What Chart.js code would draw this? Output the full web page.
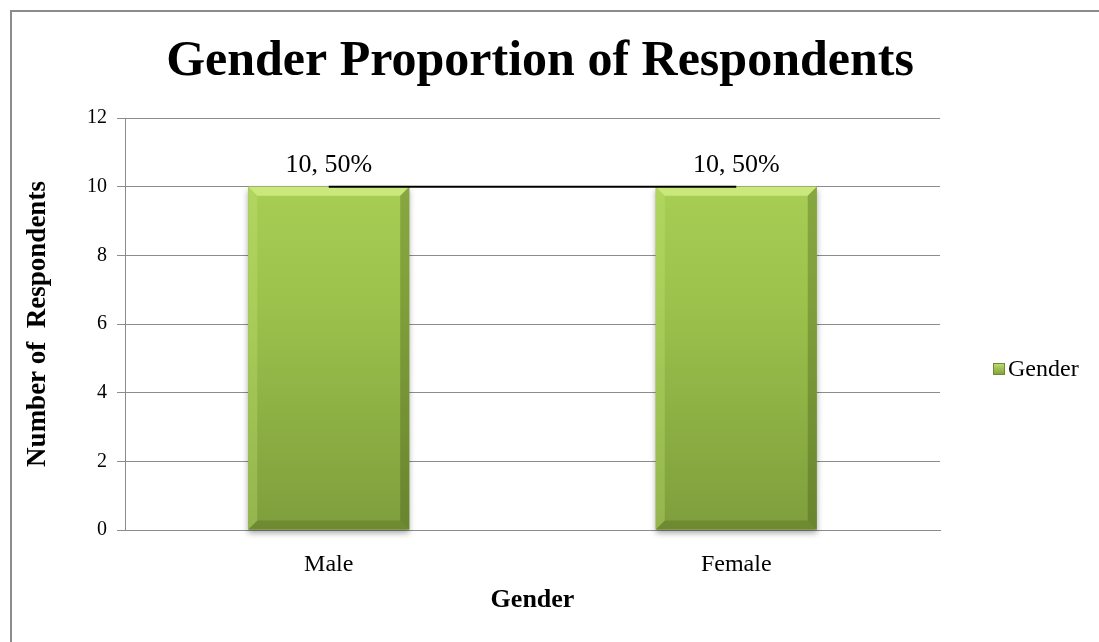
<!DOCTYPE html>
<html>
<head>
<meta charset="utf-8">
<script src="https://cdn.jsdelivr.net/npm/chart.js@4/dist/chart.umd.min.js"></script>
<style>
  html, body { margin: 0; padding: 0; background: #fff; overflow: hidden; }
  .wrap { position: relative; width: 1099px; height: 642px; }
  .frame { position: absolute; left: 10px; top: 10px; width: 1200px; height: 700px; border: 2px solid #8c8c8c; box-sizing: border-box; }
  canvas { position: absolute; left: 0; top: 0; }
</style>
</head>
<body>
<div class="wrap">
  <div class="frame"></div>
  <canvas id="chart" width="1099" height="642"></canvas>
</div>
<script>
const title = "Gender Proportion of Respondents";
const categories = ["Male", "Female"];
const gender = [10, 10];
const yTicks = [0, 2, 4, 6, 8, 10, 12];

const serif = "'Liberation Serif', 'Times New Roman', serif";

const barFill = (ctx) => {
  const area = ctx.chart.chartArea;
  if (!area) return "#9cc24e";
  const g = ctx.chart.ctx.createLinearGradient(0, area.top, 0, area.bottom);
  g.addColorStop(0, "#aed45a");
  g.addColorStop(0.45, "#9cc24c");
  g.addColorStop(1, "#7e9e3c");
  return g;
};

// bevel edges on the bars, like the office chart style
const bevel = {
  id: "bevel",
  beforeDatasetDraw(chart, args) {
    if (args.index !== 0) return;
    const ctx = chart.ctx;
    chart.getDatasetMeta(0).data.forEach(bar => {
      const { x, y, base, width } = bar.getProps(["x", "y", "base", "width"], true);
      ctx.save();
      ctx.shadowColor = "rgba(0,0,0,0.35)";
      ctx.shadowBlur = 6;
      ctx.shadowOffsetY = 3;
      ctx.fillStyle = "#8aaa42";
      ctx.fillRect(x - width / 2, y, width, base - y);
      ctx.restore();
    });
  },
  afterDatasetDraw(chart, args) {
    if (args.index !== 0) return;
    const ctx = chart.ctx;
    chart.getDatasetMeta(0).data.forEach(bar => {
      const { x, y, base, width } = bar.getProps(["x", "y", "base", "width"], true);
      const l = x - width / 2, r = x + width / 2, b = 9;
      ctx.save();
      ctx.fillStyle = "rgba(225,250,150,0.6)";
      ctx.beginPath();
      ctx.moveTo(l, y); ctx.lineTo(r, y); ctx.lineTo(r - b, y + b); ctx.lineTo(l + b, y + b);
      ctx.closePath(); ctx.fill();
      ctx.fillStyle = "rgba(50,70,15,0.28)";
      ctx.beginPath();
      ctx.moveTo(r, y); ctx.lineTo(r, base); ctx.lineTo(r - b, base - b); ctx.lineTo(r - b, y + b);
      ctx.closePath(); ctx.fill();
      ctx.fillStyle = "rgba(50,70,15,0.22)";
      ctx.beginPath();
      ctx.moveTo(l, base); ctx.lineTo(r, base); ctx.lineTo(r - b, base - b); ctx.lineTo(l + b, base - b);
      ctx.closePath(); ctx.fill();
      ctx.fillStyle = "rgba(200,235,120,0.3)";
      ctx.beginPath();
      ctx.moveTo(l, y); ctx.lineTo(l + b, y + b); ctx.lineTo(l + b, base - b); ctx.lineTo(l, base);
      ctx.closePath(); ctx.fill();
      ctx.restore();
    });
  }
};

const valueLabels = {
  id: "valueLabels",
  afterDatasetsDraw(chart) {
    const ctx = chart.ctx;
    const total = gender.reduce((a, b) => a + b, 0);
    ctx.save();
    ctx.font = "26px " + serif;
    ctx.fillStyle = "#000";
    ctx.textAlign = "center";
    ctx.textBaseline = "alphabetic";
    chart.getDatasetMeta(0).data.forEach((bar, i) => {
      const pct = Math.round(gender[i] / total * 100);
      ctx.fillText(`${gender[i]}, ${pct}%`, bar.x, bar.y - 15);
    });
    ctx.restore();
  }
};

// title and legend drawn by hand so they sit where the office chart put them
const chrome = {
  id: "chrome",
  afterDraw(chart) {
    const ctx = chart.ctx;
    ctx.save();
    ctx.fillStyle = "#000";
    ctx.font = "bold 50px " + serif;
    ctx.textAlign = "center";
    ctx.textBaseline = "middle";
    ctx.fillText(title, 540, 62);

    const ds = chart.data.datasets[0];
    const lx = 993, ly = 369;
    const g = ctx.createLinearGradient(0, ly - 6, 0, ly + 6);
    g.addColorStop(0, "#c0e070");
    g.addColorStop(1, "#7e9e3c");
    ctx.fillStyle = g;
    ctx.fillRect(lx, ly - 6, 12, 12);
    ctx.strokeStyle = "#6f8c32";
    ctx.lineWidth = 1;
    ctx.strokeRect(lx + 0.5, ly - 5.5, 11, 11);
    ctx.fillStyle = "#000";
    ctx.font = "24px " + serif;
    ctx.textAlign = "left";
    ctx.fillText(ds.label, lx + 15, ly + 1);
    ctx.restore();
  }
};

new Chart(document.getElementById("chart"), {
  type: "bar",
  data: {
    labels: categories,
    datasets: [
      {
        label: "Gender",
        data: gender,
        backgroundColor: barFill,
        borderWidth: 0,
        barPercentage: 0.79,
        categoryPercentage: 0.5,
        order: 1
      },
      {
        type: "line",
        label: "line",
        data: gender,
        borderColor: "#000",
        borderWidth: 2,
        pointRadius: 0,
        fill: false,
        order: 0
      }
    ]
  },
  options: {
    responsive: false,
    animation: false,
    layout: { padding: { left: 10, right: 159, top: 118, bottom: 26 } },
    plugins: {
      title: { display: false },
      legend: { display: false },
      tooltip: { enabled: false }
    },
    scales: {
      x: {
        afterFit: (axis) => { axis.height = 86; },
        grid: { display: false },
        border: { display: true, color: "#8c8c8c", width: 1 },
        ticks: { color: "#000", font: { family: serif, size: 24 }, padding: 12 },
        title: {
          display: true,
          text: "Gender",
          color: "#000",
          font: { family: serif, size: 26, weight: "bold" },
          padding: { top: 0, bottom: 0 }
        }
      },
      y: {
        min: 0,
        max: 12,
        afterBuildTicks: (axis) => { axis.ticks = yTicks.map(v => ({ value: v })); },
        afterFit: (axis) => { axis.width = 115; },
        grid: { color: "#8c8c8c", lineWidth: 1, tickLength: 8, drawTicks: true },
        border: { display: true, color: "#8c8c8c", width: 1 },
        ticks: { color: "#000", font: { family: serif, size: 20 }, padding: 10 },
        title: {
          display: true,
          text: "Number of  Respondents",
          color: "#000",
          font: { family: serif, size: 27, weight: "bold" },
          padding: { top: 12, bottom: 0 }
        }
      }
    }
  },
  plugins: [bevel, valueLabels, chrome]
});
</script>
</body>
</html>
